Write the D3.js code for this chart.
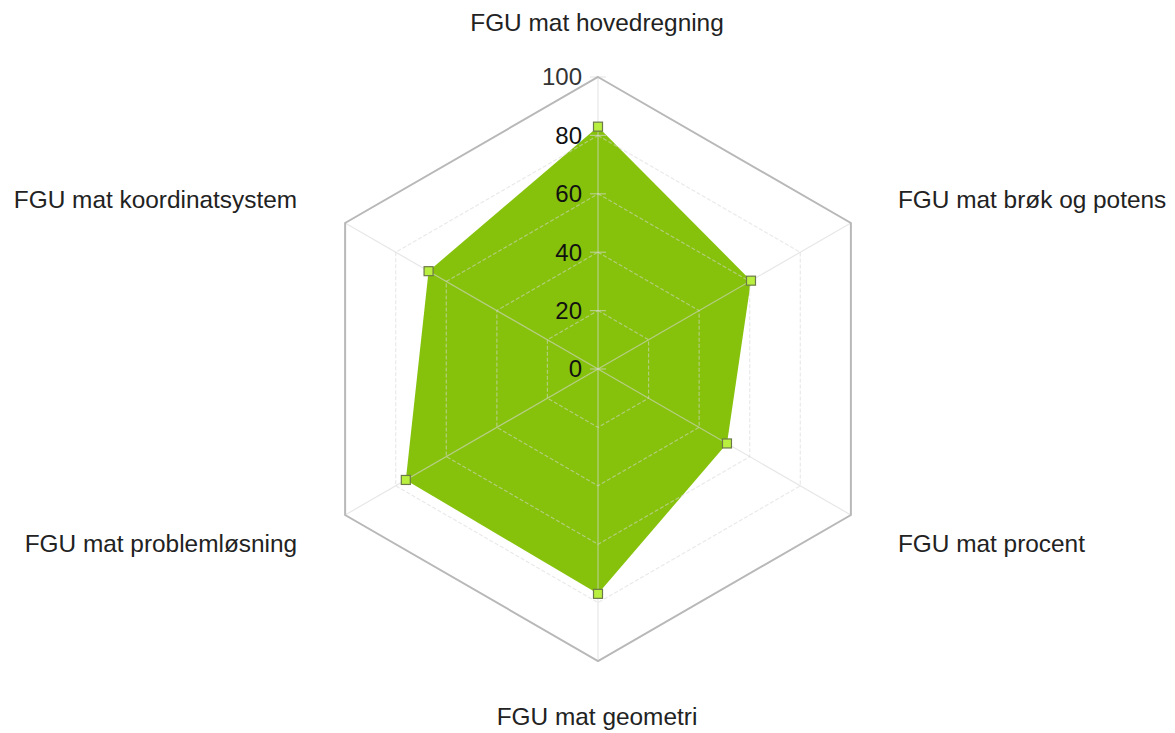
<!DOCTYPE html>
<html>
<head>
<meta charset="utf-8">
<script src="https://cdn.jsdelivr.net/npm/d3@7"></script>
<style>
  body { margin: 0; background: #fff; }
  text { font-family: "Liberation Sans", Arial, sans-serif; }
</style>
</head>
<body>
<svg id="radar" width="1175" height="733"></svg>
<script>
// categories clockwise from the top
const categories = [
  "FGU mat hovedregning",
  "FGU mat brøk og potens",
  "FGU mat procent",
  "FGU mat geometri",
  "FGU mat problemløsning",
  "FGU mat koordinatsystem"
];
const values = [83, 60.5, 51, 77, 76, 67];
const tickValues = [0, 20, 40, 60, 80, 100];

const svg = d3.select("#radar"),
    cx = 598, cy = 369, radius = 292;

const r = d3.scaleLinear().domain([0, 100]).range([0, radius]);
const angle = d3.scaleLinear().domain([0, categories.length]).range([-Math.PI / 2, Math.PI * 1.5]);

function pt(i, v) {
    const a = angle(i);
    return [cx + Math.cos(a) * r(v), cy + Math.sin(a) * r(v)];
}

const line = d3.line().curve(d3.curveLinearClosed);

// data area
svg.append("path")
    .attr("d", line(values.map((v, i) => pt(i, v))))
    .attr("fill", "#86c20c");

// grid (drawn over the area so it shows through lighter)
const grid = svg.append("g");
tickValues.filter(t => t > 0 && t < 100).forEach(t => {
    grid.append("path")
        .attr("d", line(categories.map((c, i) => pt(i, t))))
        .attr("fill", "none")
        .attr("stroke", "rgba(215,215,215,0.55)")
        .attr("stroke-width", 1.2)
        .attr("stroke-dasharray", "4,2");
});
categories.forEach((c, i) => {
    const [x, y] = pt(i, 100);
    grid.append("line")
        .attr("x1", cx).attr("y1", cy)
        .attr("x2", x).attr("y2", y)
        .attr("stroke", "rgba(215,215,215,0.6)")
        .attr("stroke-width", 1.2);
});
// tick marks on the vertical axis
tickValues.forEach(t => {
    grid.append("line")
        .attr("x1", cx - 8).attr("x2", cx + 8)
        .attr("y1", cy - r(t)).attr("y2", cy - r(t))
        .attr("stroke", "rgba(215,215,215,0.6)")
        .attr("stroke-width", 1.2);
});

// outer hexagon
svg.append("path")
    .attr("d", line(categories.map((c, i) => pt(i, 100))))
    .attr("fill", "none")
    .attr("stroke", "#b8b8b8")
    .attr("stroke-width", 2);

// tick labels
svg.append("g").selectAll("text")
    .data(tickValues)
    .enter().append("text")
    .attr("x", cx - 16)
    .attr("y", d => cy - r(d))
    .attr("dy", "0.35em")
    .attr("text-anchor", "end")
    .attr("font-size", 24)
    .attr("fill", d => d === 100 ? "#333" : "#111")
    .text(d => d);

// markers
svg.append("g").selectAll("rect")
    .data(values)
    .enter().append("rect")
    .attr("x", (d, i) => pt(i, d)[0] - 4.5)
    .attr("y", (d, i) => pt(i, d)[1] - 4.5)
    .attr("width", 9).attr("height", 9)
    .attr("fill", "#b9ef3e")
    .attr("stroke", "#6c7a48")
    .attr("stroke-width", 1.2);

// category labels
svg.append("g").selectAll("text")
    .data(categories)
    .enter().append("text")
    .attr("font-size", 24.4)
    .attr("fill", "#222")
    .attr("text-anchor", (d, i) => {
        const c = Math.cos(angle(i));
        return Math.abs(c) < 0.01 ? "middle" : (c > 0 ? "start" : "end");
    })
    .attr("x", (d, i) => {
        const [x] = pt(i, 100), c = Math.cos(angle(i));
        return Math.abs(c) < 0.01 ? x - 1 : x + (c > 0 ? 47 : -48);
    })
    .attr("y", (d, i) => {
        const [, y] = pt(i, 100), s = Math.sin(angle(i));
        if (s < -0.99) return y - 46;
        if (s > 0.99) return y + 64;
        return s < 0 ? y - 15 : y + 37;
    })
    .text(d => d);
</script>
</body>
</html>
